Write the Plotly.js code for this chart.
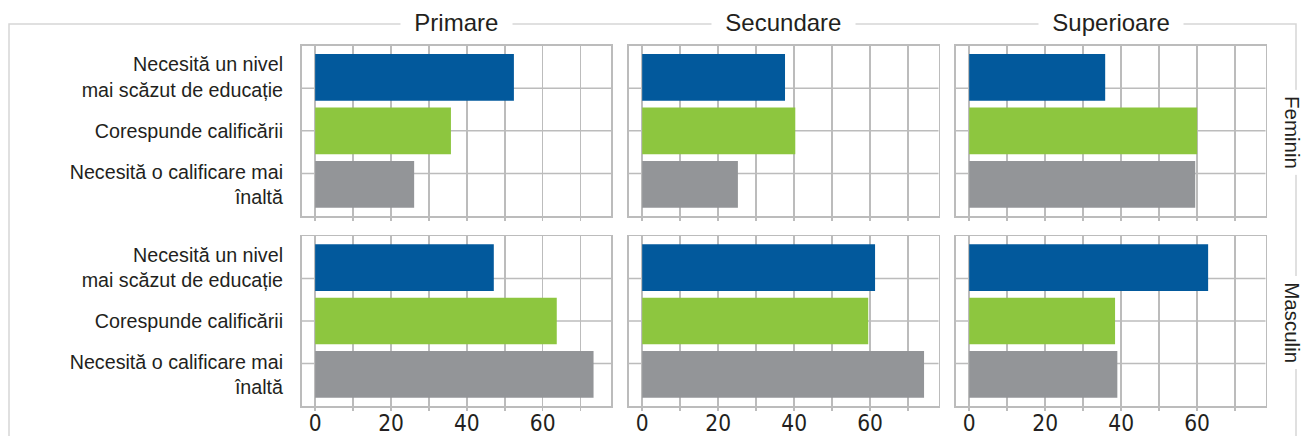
<!DOCTYPE html>
<html>
<head>
<meta charset="utf-8">
<script src="https://cdn.plot.ly/plotly-3.0.1.min.js"></script>
<style>html,body{margin:0;padding:0;background:#fff;}#chart{width:1306px;height:436px;}</style>
</head>
<body>
<div id="chart"></div>
<script>
// ---- data ----
const categories = ['Necesită un nivel<br>mai scăzut de educație', 'Corespunde calificării', 'Necesită o calificare mai<br>înaltă'];
const educationLevels = ['Primare', 'Secundare', 'Superioare'];
const genders = ['Feminin', 'Masculin'];
const femininPrimare = [52.4, 35.8, 26.1];
const femininSecundare = [37.6, 40.3, 25.2];
const femininSuperioare = [35.8, 60.0, 59.5];
const masculinPrimare = [47.1, 63.7, 73.4];
const masculinSecundare = [61.3, 59.5, 74.2];
const masculinSuperioare = [62.9, 38.4, 39.0];
const xTickVals = [0, 20, 40, 60];
const xTickText = ['0', '20', '40', '60'];

// ---- styling ----
const barColors = ['#02599c', '#8dc63f', '#939598'];
const textColor = '#231f20';
const gridColor = '#bcbcbc';
const frameColor = '#d6d6d6';
const W = 1306, H = 436;
const colPx = [[301.5, 611], [628.5, 938.5], [955.5, 1265.5]];
const rowPx = [[45.7, 216], [236, 406]];
const px = v => v / W;
const py = v => 1 - v / H;

const values = [
  [femininPrimare, femininSecundare, femininSuperioare],
  [masculinPrimare, masculinSecundare, masculinSuperioare]
];

const traces = [];
const layout = {
  width: W, height: H,
  margin: {l: 0, r: 0, t: 0, b: 0},
  paper_bgcolor: '#fff', plot_bgcolor: '#fff',
  showlegend: false,
  bargap: 0.127,
  font: {family: 'Liberation Sans, Arial, sans-serif', color: textColor},
  shapes: [], annotations: []
};

let idx = 0;
for (let r = 0; r < 2; r++) {
  for (let c = 0; c < 3; c++) {
    idx++;
    const sfx = idx === 1 ? '' : String(idx);
    traces.push({
      type: 'bar', orientation: 'h',
      x: values[r][c], y: categories,
      marker: {color: barColors, line: {width: 0}},
      xaxis: 'x' + sfx, yaxis: 'y' + sfx,
      hoverinfo: 'x+y'
    });
    layout['xaxis' + sfx] = {
      domain: [px(colPx[c][0]), px(colPx[c][1])],
      anchor: 'y' + sfx,
      range: [-3.6, 78],
      tickvals: xTickVals, ticktext: xTickText,
      showticklabels: r === 1,
      tickfont: {family: 'Liberation Sans Narrow, DejaVu Sans Condensed, sans-serif', size: 22.5, color: textColor},
      ticks: 'outside', ticklen: 3, tickcolor: gridColor, tickwidth: 1.5,
      ticklabelstandoff: -7,
      showgrid: true, gridcolor: gridColor, gridwidth: 1.5,
      minor: {dtick: 10, tick0: 0, showgrid: true, gridcolor: gridColor, gridwidth: 1.5, ticks: 'outside', ticklen: 3, tickcolor: gridColor},
      zeroline: false,
      showline: true, mirror: true, linecolor: gridColor, linewidth: 1.5,
      fixedrange: true
    };
    layout['yaxis' + sfx] = {
      domain: [py(rowPx[r][1]), py(rowPx[r][0])],
      anchor: 'x' + sfx,
      type: 'category',
      categoryorder: 'array', categoryarray: categories,
      range: [2.59, -0.59],
      showticklabels: c === 0,
      tickfont: {family: 'Liberation Sans, Arial, sans-serif', size: 19.7, color: textColor},
      ticks: '', ticklabelstandoff: 13,
      showgrid: false, zeroline: false,
      showline: true, mirror: true, linecolor: gridColor, linewidth: 1.5,
      fixedrange: true
    };
    [0.25, 0.5, 0.75].forEach(f => {
      layout.shapes.push({
        type: 'line', layer: 'below',
        xref: 'x' + sfx + ' domain', yref: 'y' + sfx + ' domain',
        x0: 0, x1: 1, y0: f, y1: f,
        line: {color: gridColor, width: 1.5}
      });
    });
  }
}

// outer frame (broken by the strip labels)
layout.shapes.push({
  type: 'rect', xref: 'paper', yref: 'paper', layer: 'below',
  x0: px(9), x1: px(1296), y0: py(446), y1: py(24),
  line: {color: frameColor, width: 1.5}, fillcolor: 'rgba(0,0,0,0)'
});

// column strip titles
educationLevels.forEach((t, c) => {
  layout.annotations.push({
    xref: 'paper', yref: 'paper',
    x: px((colPx[c][0] + colPx[c][1]) / 2), y: py(23),
    xanchor: 'center', yanchor: 'middle',
    text: '&nbsp;&nbsp;' + t + '&nbsp;&nbsp;', showarrow: false,
    bgcolor: '#fff', borderpad: 0,
    font: {size: 24, color: textColor, family: 'Liberation Sans, Arial, sans-serif'}
  });
});
// row strip titles
genders.forEach((t, r) => {
  layout.annotations.push({
    xref: 'paper', yref: 'paper',
    x: px(1292.5), y: py((rowPx[r][0] + rowPx[r][1]) / 2 + 1),
    xanchor: 'center', yanchor: 'middle',
    text: '&nbsp;' + t + '&nbsp;', showarrow: false, textangle: 90,
    bgcolor: '#fff', borderpad: 0,
    font: {size: 20.5, color: textColor, family: 'Liberation Sans, Arial, sans-serif'}
  });
});

Plotly.newPlot('chart', traces, layout, {displayModeBar: false, staticPlot: true});
</script>
</body>
</html>
